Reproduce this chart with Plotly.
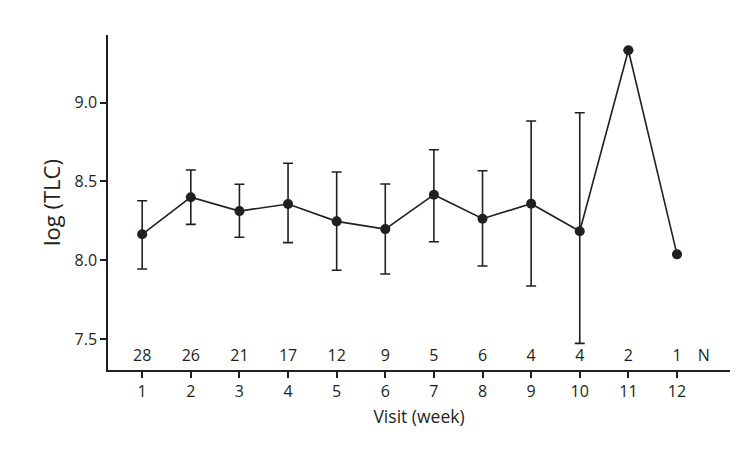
import plotly.graph_objects as go

visits = [1, 2, 3, 4, 5, 6, 7, 8, 9, 10, 11, 12]
mean_log_tlc = [8.165, 8.400, 8.312, 8.357, 8.247, 8.198, 8.416, 8.264, 8.359, 8.184, 9.331, 8.038]
upper_bound = [8.378, 8.572, 8.482, 8.615, 8.560, 8.484, 8.701, 8.568, 8.883, 8.935, None, None]
lower_bound = [7.945, 8.228, 8.146, 8.112, 7.937, 7.913, 8.118, 7.964, 7.837, 7.474, None, None]
n_counts = [28, 26, 21, 17, 12, 9, 5, 6, 4, 4, 2, 1]
y_ticks = [7.5, 8.0, 8.5, 9.0]

err_plus = [None if u is None else u - m for u, m in zip(upper_bound, mean_log_tlc)]
err_minus = [None if l is None else m - l for l, m in zip(lower_bound, mean_log_tlc)]

FONT = "Open Sans"
INK = "#231f20"

fig = go.Figure()
fig.add_trace(go.Scatter(
    x=visits, y=mean_log_tlc, mode="lines+markers",
    line=dict(color=INK, width=1.6),
    marker=dict(color=INK, size=10),
    error_y=dict(type="data", symmetric=False, array=err_plus, arrayminus=err_minus,
                 color=INK, thickness=1.6, width=5),
    showlegend=False, hoverinfo="x+y",
))

# N counts row
fig.add_trace(go.Scatter(
    x=visits + [12.55], y=[7.39] * 13, mode="text",
    text=[str(n) for n in n_counts] + ["N"],
    textfont=dict(family=FONT, size=16, color=INK),
    showlegend=False, hoverinfo="skip",
))

fig.update_layout(
    width=750, height=451,
    margin=dict(l=107.5, r=20, t=35, b=81),
    plot_bgcolor="white", paper_bgcolor="white",
    font=dict(family=FONT, color=INK),
)
fig.update_xaxes(
    range=[0.297, 13.09], tickvals=visits, ticktext=[str(v) for v in visits],
    showgrid=False, zeroline=False, showline=True, linecolor=INK, linewidth=1.5,
    ticks="outside", ticklen=6, tickwidth=1.5, tickcolor=INK,
    tickfont=dict(family=FONT, size=16, color=INK),
    title=dict(text="Visit (week)", font=dict(family=FONT, size=17.5, color=INK), standoff=10),
)
fig.update_yaxes(
    range=[7.305, 9.428], tickvals=y_ticks, ticktext=[f"{v:.1f}" for v in y_ticks],
    showgrid=False, zeroline=False, showline=True, linecolor=INK, linewidth=1.5,
    ticks="outside", ticklen=6, tickwidth=1.5, tickcolor=INK,
    tickfont=dict(family=FONT, size=16, color=INK),
    title=dict(text="log (TLC)", font=dict(family=FONT, size=22, color=INK), standoff=8),
)

fig.write_html("out.html")
